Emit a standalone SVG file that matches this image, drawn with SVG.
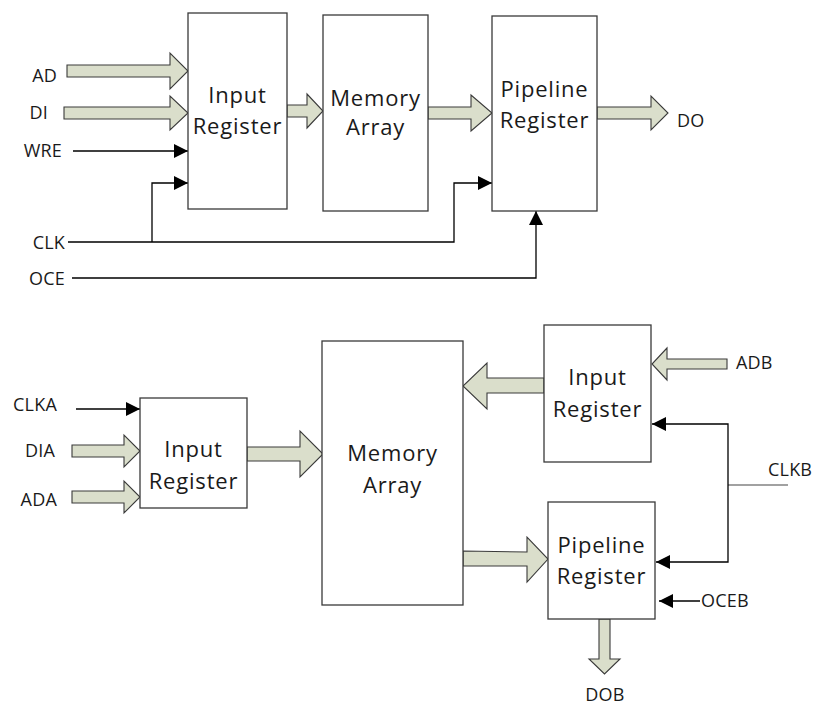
<svg xmlns="http://www.w3.org/2000/svg" width="815" height="707" viewBox="0 0 815 707">
<defs>
<style>
.box{fill:#fff;stroke:#3a3a3a;stroke-width:1.3}
.bus{fill:#dadecb;stroke:#3a3a3a;stroke-width:1.1;stroke-linejoin:miter}
.wire{fill:none;stroke:#000;stroke-width:1.3}
.t{font-family:"Open Sans","Liberation Sans",sans-serif;font-size:22px;fill:#1a1a1a;text-anchor:middle;letter-spacing:0.8px}
.l{font-family:"Open Sans","Liberation Sans",sans-serif;font-size:18px;fill:#1a1a1a;letter-spacing:0.2px}
.e{text-anchor:end}
.m{text-anchor:middle}
</style>
<marker id="ah" markerUnits="userSpaceOnUse" markerWidth="14" markerHeight="14" refX="14" refY="7" orient="auto" viewBox="0 0 14 14">
<path d="M0,0 L14,7 L0,14 z" fill="#000"/>
</marker>
</defs>
<rect width="815" height="707" fill="#fff"/>

<g id="connectors">
<polygon class="bus" points="67,65 170,65 170,53 188,71 170,89 170,77 67,77"/>
<polygon class="bus" points="64,107 170,107 170,96 188,113 170,130 170,119 64,119"/>
<polygon class="bus" points="287,105 307,105 307,94 323,111 307,128 307,117 287,117"/>
<polygon class="bus" points="428,107 471,107 471,95 492,113 471,131 471,119 428,119"/>
<polygon class="bus" points="597,107 651,107 651,96 668,113 651,130 651,119 597,119"/>
<path class="wire" d="M73,151 H188" marker-end="url(#ah)"/>
<path class="wire" d="M68,242 H454 V183 H492" marker-end="url(#ah)"/>
<path class="wire" d="M152,242 V183 H188" marker-end="url(#ah)"/>
<path class="wire" d="M72,278 H536 V211" marker-end="url(#ah)"/>

<polygon class="bus" points="72,445 124,445 124,435 140,451 124,467 124,457 72,457"/>
<polygon class="bus" points="72,491 124,491 124,481 140,497 124,513 124,503 72,503"/>
<polygon class="bus" points="247,447 300,447 300,431 323,454 300,477 300,461 247,461"/>
<polygon class="bus" points="544,378 487,378 487,363 463,386 487,409 487,393 544,393"/>
<polygon class="bus" points="727,359 667,359 667,348 652,364 667,380 667,369 727,369"/>
<polygon class="bus" points="463,551 527,552 527,537 548,559 527,582 527,566 463,566"/>
<polygon class="bus" points="599,619 610,619 610,659 620,659 604.5,674 589,659 599,659"/>
<path class="wire" d="M76,409 H140" marker-end="url(#ah)"/>
<path class="wire" d="M788,485 H728" style="stroke:#444;stroke-width:1.1"/>
<path class="wire" d="M728,485 V424 H652" marker-end="url(#ah)"/>
<path class="wire" d="M728,485 V562 H656" marker-end="url(#ah)"/>
<path class="wire" d="M700,601 H659" marker-end="url(#ah)"/>
</g>

<g id="in-reg-top">
<rect class="box" x="188" y="13" width="99" height="196"/>
<text class="t" x="237.5" y="103">Input</text>
<text class="t" x="237.5" y="134">Register</text>
</g>
<g id="mem-top">
<rect class="box" x="323" y="15" width="105" height="196"/>
<text class="t" x="375.5" y="106">Memory</text>
<text class="t" x="375.5" y="135">Array</text>
</g>
<g id="pipe-top">
<rect class="box" x="492" y="16" width="105" height="195"/>
<text class="t" x="544.5" y="97">Pipeline</text>
<text class="t" x="544.5" y="128">Register</text>
</g>

<g id="in-reg-a">
<rect class="box" x="140" y="398" width="107" height="110"/>
<text class="t" x="193.5" y="457">Input</text>
<text class="t" x="193.5" y="489">Register</text>
</g>
<g id="mem-bottom">
<rect class="box" x="322" y="341" width="141" height="264"/>
<text class="t" x="392.5" y="461">Memory</text>
<text class="t" x="392.5" y="493">Array</text>
</g>
<g id="in-reg-b">
<rect class="box" x="544" y="325" width="107" height="137"/>
<text class="t" x="597.5" y="385">Input</text>
<text class="t" x="597.5" y="417">Register</text>
</g>
<g id="pipe-b">
<rect class="box" x="548" y="502" width="107" height="117"/>
<text class="t" x="601.5" y="553">Pipeline</text>
<text class="t" x="601.5" y="584">Register</text>
</g>

<g id="labels">
<text class="l e" x="57" y="82">AD</text>
<text class="l e" x="48" y="119">DI</text>
<text class="l e" x="62" y="157">WRE</text>
<text class="l e" x="65" y="249">CLK</text>
<text class="l e" x="65" y="285">OCE</text>
<text class="l" x="677" y="127">DO</text>
<text class="l e" x="57" y="411">CLKA</text>
<text class="l e" x="55" y="457">DIA</text>
<text class="l e" x="57" y="506">ADA</text>
<text class="l" x="736" y="369">ADB</text>
<text class="l" x="768" y="476">CLKB</text>
<text class="l" x="701" y="607">OCEB</text>
<text class="l m" x="605" y="701">DOB</text>
</g>
</svg>
